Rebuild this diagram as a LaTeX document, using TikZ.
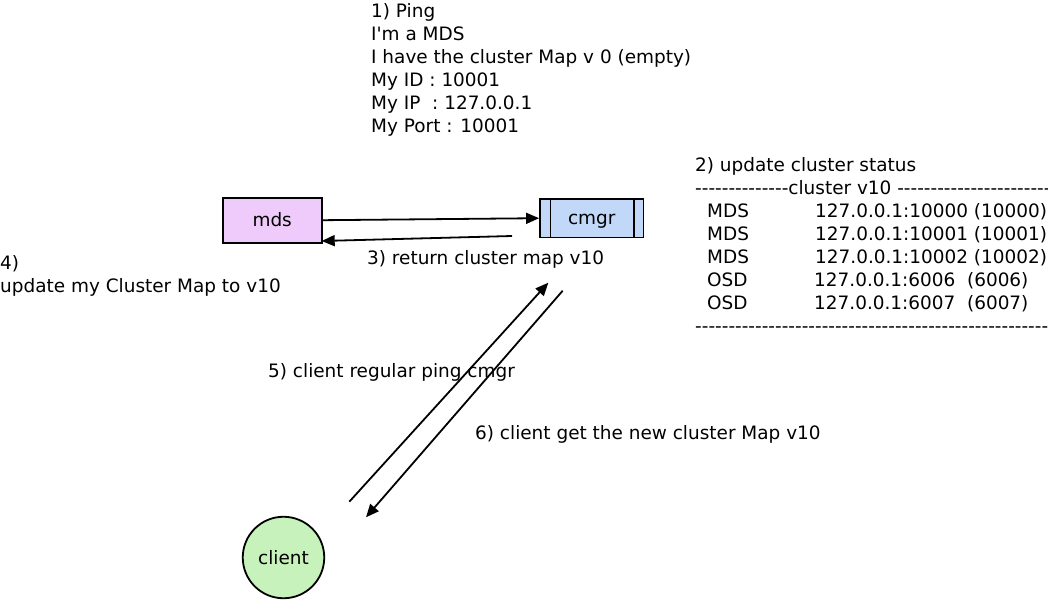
\documentclass[tikz,border=0pt]{standalone}
\usepackage{fontspec}
\setmainfont{DejaVu Sans}[Ligatures=TeXOff]
\usetikzlibrary{arrows.meta}
\definecolor{mdsfill}{RGB}{238,203,250}
\definecolor{cmgrfill}{RGB}{193,216,249}
\definecolor{clientfill}{RGB}{200,242,187}
\tikzset{
  txt/.style={anchor=base west, inner sep=0pt, align=left, font=\fontsize{18.45}{23}\selectfont},
  boxlbl/.style={font=\fontsize{18.45}{23}\selectfont, text height=15pt, text depth=2pt},
  arr/.style={line width=1.8pt, -{Triangle[length=13pt,width=11pt]}},
  bordered/.style={draw, line width=1.8pt}
}
\begin{document}
\begin{tikzpicture}[x=1pt,y=-1pt]
\clip (0,0) rectangle (1048,599);
\useasboundingbox (0,0) rectangle (1048,599);
\fill[white] (0,0) rectangle (1048,599);
% boxes
\node[bordered, fill=mdsfill, minimum width=99pt, minimum height=45pt, inner sep=0pt, boxlbl] (mds) at (272.2,220.2) {mds};
\node[bordered, fill=cmgrfill, minimum width=103.5pt, minimum height=38.5pt, inner sep=0pt, boxlbl] (cmgr) at (591.7,218.2) {cmgr};
\draw[line width=1.8pt] ([xshift=11.5pt]cmgr.north west) -- ([xshift=11.5pt]cmgr.south west);
\draw[line width=1.8pt] ([xshift=-10.5pt]cmgr.north east) -- ([xshift=-10.5pt]cmgr.south east);
\node[bordered, circle, fill=clientfill, minimum size=81.5pt, inner sep=0pt, boxlbl] (client) at (283.5,557.5) {client};
% texts
\node[txt] (t1) at (371,132.5) {1) Ping\\I'm a MDS\\I have the cluster Map v 0 (empty)\\My ID : 10001\\My IP\ \ : 127.0.0.1\\My Port : 10001};
\node[txt] (t2) at (695,332.5) {2) update cluster status\\
--------------cluster v10 ------------------------------------\\
\makebox[120pt][l]{\hspace{12pt}MDS}127.0.0.1:10000 (10000)\\
\makebox[120pt][l]{\hspace{12pt}MDS}127.0.0.1:10001 (10001)\\
\makebox[120pt][l]{\hspace{12pt}MDS}127.0.0.1:10002 (10002)\\
\makebox[119pt][l]{\hspace{12pt}OSD}127.0.0.1:6006\ \ (6006)\\
\makebox[119pt][l]{\hspace{12pt}OSD}127.0.0.1:6007\ \ (6007)\\
------------------------------------------------------------------};
\node[txt] (t3) at (367,264.5) {3) return cluster map v10};
\node[txt] (t4) at (0,292.5) {4)\\update my Cluster Map to v10};
\node[txt] (t5) at (268,377.5) {5) client regular ping cmgr};
\node[txt] (t6) at (475,439.5) {6) client get the new cluster Map v10};
% connector ends
\coordinate (r3) at (512,236);
\coordinate (m3) at (321.7,241);
\coordinate (c5a) at (349.3,501.7);
\coordinate (c5b) at (548.3,282.7);
\coordinate (c6a) at (562.7,290.7);
\coordinate (c6b) at (366,517.3);
% arrows
\draw[arr] (mds.east) -- (cmgr.west);
\draw[arr] (r3) -- (m3);
\draw[arr] (c5a) -- (c5b);
\draw[arr] (c6a) -- (c6b);
\end{tikzpicture}
\end{document}
